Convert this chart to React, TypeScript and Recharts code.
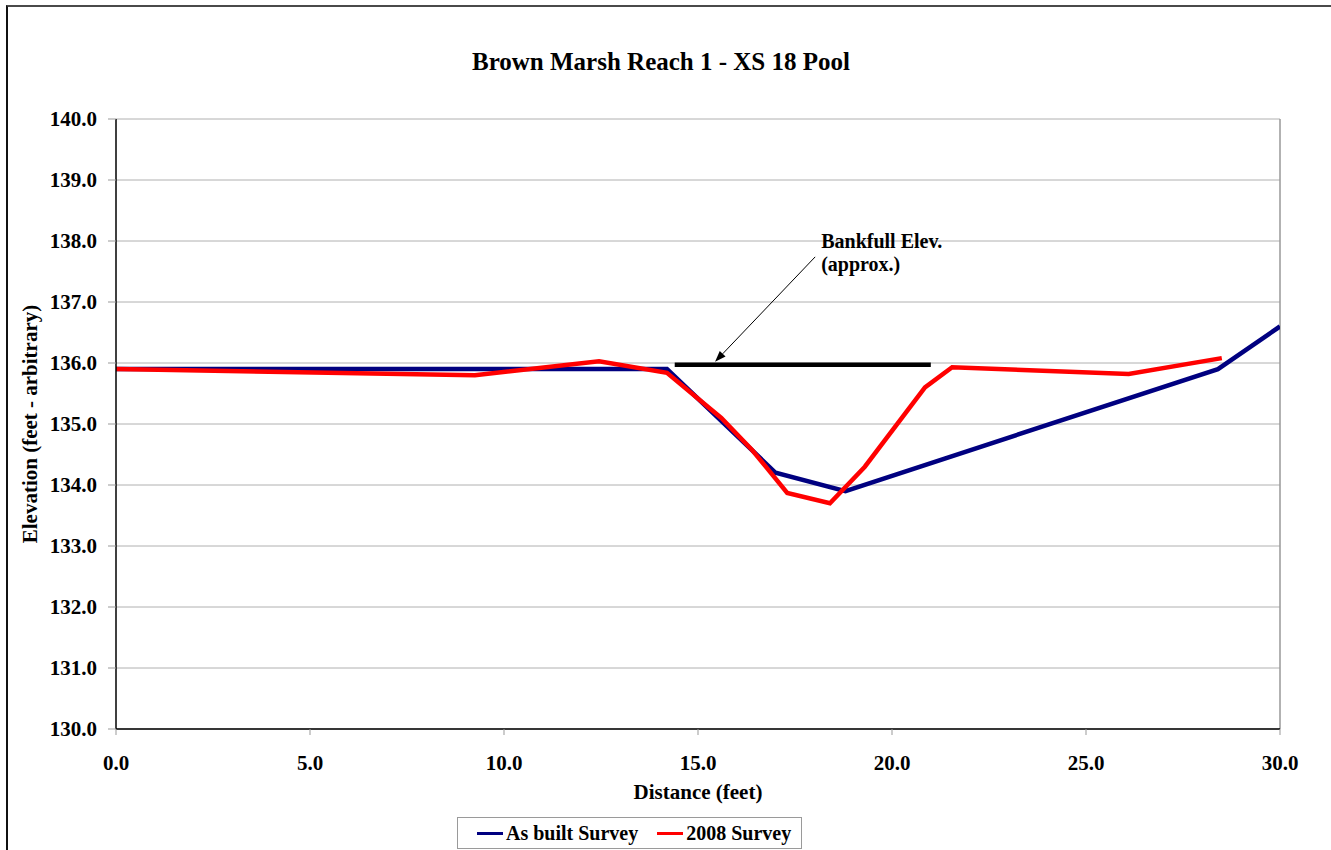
import React from "react";
import {
  LineChart,
  Line,
  XAxis,
  YAxis,
  CartesianGrid,
  ReferenceLine,
  Legend,
} from "recharts";

const chartTitle = "Brown Marsh Reach 1 - XS 18 Pool";
const xAxisTitle = "Distance (feet)";
const yAxisTitle = "Elevation (feet - arbitrary)";

const asBuiltName = "As built Survey";
const asBuiltX = [0, 14.2, 17.0, 18.8, 28.4, 30.0];
const asBuiltY = [135.9, 135.9, 134.2, 133.9, 135.9, 136.6];

const survey2008Name = "2008 Survey";
const survey2008X = [0, 9.25, 12.45, 14.2, 15.6, 16.4, 17.3, 18.4, 19.3, 20.85, 21.55, 26.1, 28.5];
const survey2008Y = [135.9, 135.8, 136.03, 135.84, 135.1, 134.57, 133.87, 133.7, 134.3, 135.6, 135.93, 135.82, 136.08];

const legendOrder = [asBuiltName, survey2008Name];

const bankfullX = [14.4, 21.0];
const bankfullY = [135.97, 135.97];

const arrowFrom = { x: 18.02, y: 137.74 };
const arrowTo = { x: 15.44, y: 136.02 };
const annotationLines = ["Bankfull Elev.", "(approx.)"];

const xTicks = [0, 5, 10, 15, 20, 25, 30];
const yTicks = [130, 131, 132, 133, 134, 135, 136, 137, 138, 139, 140];

const asBuiltData = asBuiltX.map((x, i) => ({ x, y: asBuiltY[i] }));
const survey2008Data = survey2008X.map((x, i) => ({ x, y: survey2008Y[i] }));
const bankfullData = bankfullX.map((x, i) => ({ x, y: bankfullY[i] }));

const FONT = "'Liberation Serif', 'Times New Roman', serif";

const ArrowShape = (props: any) => {
  const { x1, y1, x2, y2 } = props;
  if ([x1, y1, x2, y2].some((v) => typeof v !== "number" || isNaN(v))) return null;
  const dx = x2 - x1;
  const dy = y2 - y1;
  const len = Math.sqrt(dx * dx + dy * dy);
  const ux = dx / len;
  const uy = dy / len;
  const headLen = 11;
  const headW = 4;
  const bx = x2 - ux * headLen;
  const by = y2 - uy * headLen;
  const px = -uy;
  const py = ux;
  const pts = `${x2},${y2} ${bx + px * headW},${by + py * headW} ${bx - px * headW},${by - py * headW}`;
  return (
    <g>
      <line x1={x1} y1={y1} x2={bx} y2={by} stroke="#000" strokeWidth={1} />
      <polygon points={pts} fill="#000" />
      <text x={x1 + 6} y={y1 - 9} fontFamily={FONT} fontWeight="bold" fontSize={20} fill="#000">
        {annotationLines[0]}
      </text>
      <text x={x1 + 6} y={y1 + 14} fontFamily={FONT} fontWeight="bold" fontSize={20} fill="#000">
        {annotationLines[1]}
      </text>
    </g>
  );
};

const renderLegend = (props: any) => {
  const payload = (props.payload || [])
    .filter((p: any) => p.type !== "none")
    .slice()
    .sort((a: any, b: any) => legendOrder.indexOf(a.value) - legendOrder.indexOf(b.value));
  return (
    <div
      style={{
        boxSizing: "border-box",
        width: 345,
        height: 32,
        border: "1px solid #9a9a9a",
        display: "flex",
        alignItems: "center",
        paddingLeft: 19,
        background: "#fff",
        fontFamily: FONT,
        fontWeight: "bold",
        fontSize: 20,
        color: "#000",
      }}
    >
      {payload.map((p: any, i: number) => (
        <div key={i} style={{ display: "flex", alignItems: "center", marginRight: 19 }}>
          <span
            style={{
              display: "inline-block",
              width: 26,
              height: 3,
              background: p.color,
              marginRight: 3,
            }}
          />
          <span style={{ whiteSpace: "nowrap" }}>{p.value}</span>
        </div>
      ))}
    </div>
  );
};

export default function App() {
  const tickStyle = { fill: "#000", fontSize: 21, fontWeight: "bold", fontFamily: FONT };
  return (
    <div
      style={{
        position: "absolute",
        left: 0,
        top: 0,
        width: 1331,
        height: 850,
        overflow: "hidden",
        background: "#fff",
      }}
    >
      <div
        style={{
          position: "absolute",
          left: 6,
          top: 5,
          width: 1400,
          height: 900,
          borderTop: "2px solid #4a4a4a",
          borderLeft: "2px solid #111",
        }}
      />
      <div
        style={{
          position: "absolute",
          left: 0,
          top: 47,
          width: 1322,
          textAlign: "center",
          fontFamily: FONT,
          fontWeight: "bold",
          fontSize: 25,
          color: "#000",
          lineHeight: "30px",
        }}
      >
        {chartTitle}
      </div>
      <div style={{ position: "absolute", left: 0, top: 0 }}>
        <LineChart width={1331} height={850} margin={{ top: 119, right: 51, left: 0, bottom: 0 }}>
          <CartesianGrid vertical={false} stroke="#b0b0b0" strokeWidth={1} />
          <XAxis
            type="number"
            dataKey="x"
            domain={[0, 30]}
            ticks={xTicks}
            tickFormatter={(v: number) => v.toFixed(1)}
            height={121}
            tickSize={6}
            tickMargin={20}
            axisLine={{ stroke: "#000", strokeWidth: 1.5 }}
            tickLine={{ stroke: "#999" }}
            tick={tickStyle}
            allowDataOverflow
            label={{
              value: xAxisTitle,
              position: "insideBottom",
              offset: 51,
              style: { fill: "#000", fontSize: 21, fontWeight: "bold", fontFamily: FONT },
            }}
          />
          <YAxis
            type="number"
            dataKey="y"
            domain={[130, 140]}
            ticks={yTicks}
            tickFormatter={(v: number) => v.toFixed(1)}
            width={116}
            tickSize={8}
            tickMargin={11}
            axisLine={{ stroke: "#000", strokeWidth: 1.5 }}
            tickLine={{ stroke: "#999" }}
            tick={tickStyle}
            allowDataOverflow
            label={{
              value: yAxisTitle,
              angle: -90,
              position: "insideLeft",
              offset: 30,
              style: {
                textAnchor: "middle",
                fill: "#000",
                fontSize: 21,
                fontWeight: "bold",
                fontFamily: FONT,
              },
            }}
          />
          <ReferenceLine x={30} stroke="#999" strokeWidth={1.5} />
          <Line
            data={asBuiltData}
            dataKey="y"
            name={asBuiltName}
            stroke="#000080"
            strokeWidth={4.5}
            dot={false}
            isAnimationActive={false}
            type="linear"
          />
          <Line
            data={survey2008Data}
            dataKey="y"
            name={survey2008Name}
            stroke="#ff0000"
            strokeWidth={4.5}
            dot={false}
            isAnimationActive={false}
            type="linear"
          />
          <Line
            data={bankfullData}
            dataKey="y"
            name="Bankfull"
            stroke="#000"
            strokeWidth={4.5}
            dot={false}
            legendType="none"
            isAnimationActive={false}
            type="linear"
          />
          <ReferenceLine
            segment={[arrowFrom, arrowTo]}
            stroke="#000"
            shape={ArrowShape}
            ifOverflow="visible"
          />
          <Legend
            layout="horizontal"
            verticalAlign="middle"
            align="center"
            content={renderLegend}
            wrapperStyle={{ left: 457, top: 817, width: 345, height: 32 }}
          />
        </LineChart>
      </div>
    </div>
  );
}
